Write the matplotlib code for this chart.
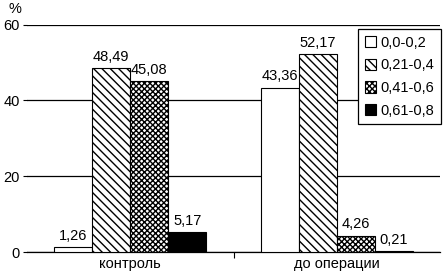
import matplotlib.pyplot as plt
import numpy as np
from matplotlib.patches import Patch

plt.rcParams['font.family'] = ['Liberation Sans', 'DejaVu Sans']
plt.rcParams['hatch.linewidth'] = 1.0

categories = ['контроль', 'до операции']
series_names = ['0,0-0,2', '0,21-0,4', '0,41-0,6', '0,61-0,8']
values = [
    [1.26, 43.36],
    [48.49, 52.17],
    [45.08, 4.26],
    [5.17, 0.21],
]
labels = [
    ['1,26', '43,36'],
    ['48,49', '52,17'],
    ['45,08', '4,26'],
    ['5,17', '0,21'],
]
y_ticks = [0, 20, 40, 60]

styles = [
    dict(facecolor='white', hatch=None),
    dict(facecolor='white', hatch='\\\\\\\\'),
    dict(facecolor='white', hatch='xxxxxx'),
    dict(facecolor='black', hatch=None),
]

W, H = 443, 273
fig = plt.figure(figsize=(W / 100, H / 100), dpi=100)
ax = fig.add_axes([27 / W, 1 - 252 / H, 413 / W, (252 - 24.5) / H])

x = np.arange(len(categories))
width = 0.184
for i, (vals, st) in enumerate(zip(values, styles)):
    pos = x + (i - 1.5) * width
    bars = ax.bar(pos, vals, width, color=st['facecolor'], edgecolor='black',
                  hatch=st['hatch'], linewidth=0.8, zorder=3)
    for b, lab in zip(bars, labels[i]):
        ax.text(b.get_x() + b.get_width() / 2, b.get_height() + 1.2, lab,
                ha='center', va='bottom', fontsize=10.5)

ax.set_xlim(-0.5, 1.5)
ax.set_ylim(0, 60)
ax.set_yticks(y_ticks)
ax.set_yticklabels([str(t) for t in y_ticks], fontsize=10.5)
ax.yaxis.grid(True, color='black', linewidth=0.9, zorder=0)
ax.set_axisbelow(True)

ax.set_xticks([0.5])
ax.set_xticklabels([''])
ax.tick_params(axis='x', length=4, color='black')
ax.tick_params(axis='y', length=3, pad=2)

# category names placed on a fixed baseline near the bottom edge
for xi, c in zip(x, categories):
    xf = fig.transFigure.inverted().transform(ax.transData.transform((xi, 0)))[0]
    fig.text(xf, 1 - 268 / H, c, ha='center', va='baseline', fontsize=10.5)

for s in ['top', 'right', 'left']:
    ax.spines[s].set_visible(False)
ax.spines['bottom'].set_linewidth(0.9)

fig.text(15 / W, 1 - 9 / H, '%', ha='center', va='center', fontsize=10.5)

handles = [Patch(facecolor=st['facecolor'], edgecolor='black', hatch=st['hatch'],
                 linewidth=0.8, label=n) for st, n in zip(styles, series_names)]
leg = fig.legend(handles=handles, loc='upper right',
                 bbox_to_anchor=(441 / W, 1 - 29 / H), bbox_transform=fig.transFigure,
                 fontsize=10.5, frameon=True, fancybox=False, framealpha=1,
                 edgecolor='black', handlelength=0.8, handleheight=0.8,
                 handletextpad=0.3, borderpad=0.45, labelspacing=0.6,
                 borderaxespad=0)
leg.get_frame().set_linewidth(0.9)
leg.set_zorder(5)

fig.savefig('out.png', dpi=100)
